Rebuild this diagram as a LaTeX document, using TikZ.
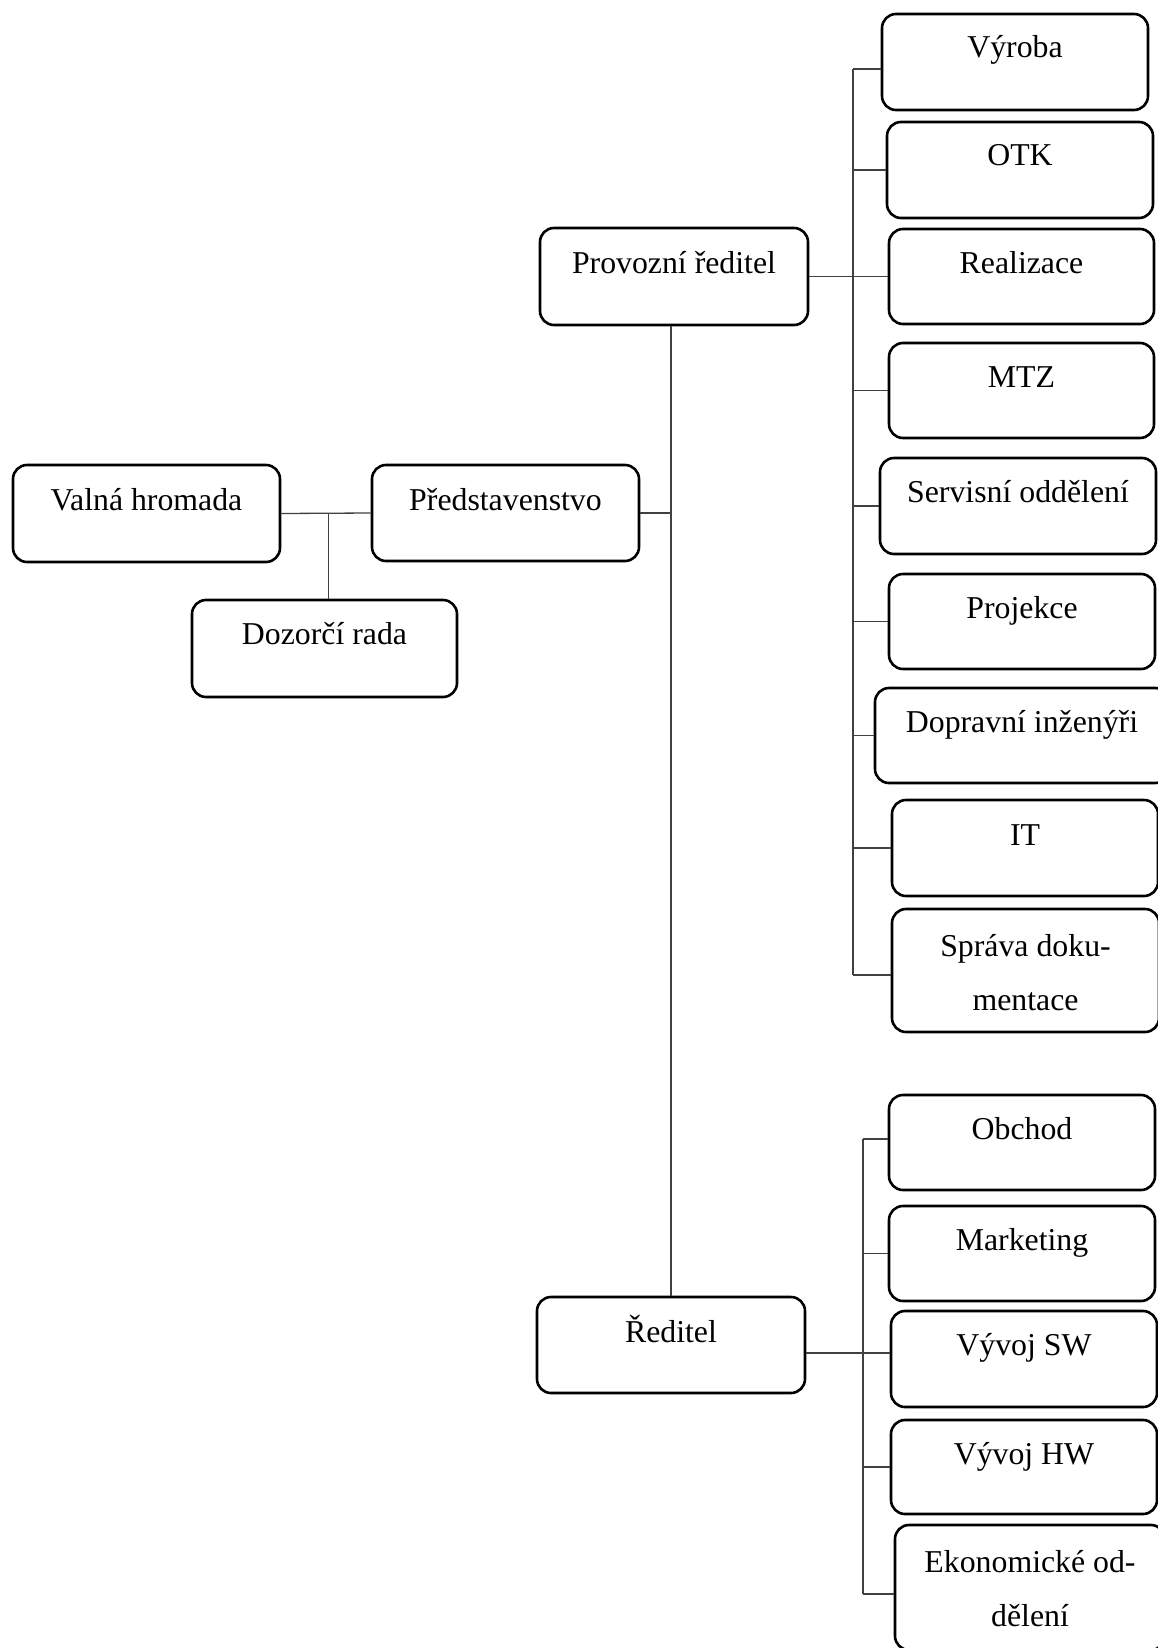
\documentclass[tikz,border=0pt]{standalone}
\usepackage{fontspec}
\setmainfont{Liberation Serif}
\usetikzlibrary{calc}
\tikzset{
  box/.style={draw=black, line width=2.6pt, rounded corners=14pt, inner sep=0pt, align=center, font=\fontsize{31.8}{54}\selectfont},
  conn/.style={draw=black!75, line width=1.3pt}
}
\newcommand\bx[7]{%
  \node[box, minimum width={(#4-#2)*1pt}, minimum height={(#5-#3)*1pt},
        text height={#6*1pt}, text depth={(#5-#3-#6)*1pt}]
        (#1) at ({(#2+#4)/2},{(#3+#5)/2}) {#7};}
\newcommand\twol[2]{\vtop{\halign{\hfil##\hfil\cr #1\cr #2\cr}}}
\begin{document}
\begin{tikzpicture}[x=1pt,y=-1pt]
\useasboundingbox (0,0) rectangle (1157,1648);
\bx{vh}{13}{465}{280}{562}{45}{Valná hromada}
\bx{dz}{192}{600}{457}{697}{44}{Dozorčí rada}
\bx{pr}{372}{465}{639}{561}{45}{Představenstvo}
\bx{prov}{540}{228}{808}{325}{45}{Provozní ředitel}
\bx{red}{537}{1297}{805}{1393}{45}{Ředitel}
\bx{vyr}{882}{14}{1148}{110}{44}{Výroba}
\bx{otk}{887}{122}{1153}{218}{44}{OTK}
\bx{real}{889}{229}{1154}{324}{44}{Realizace}
\bx{mtz}{889}{343}{1154}{438}{44}{MTZ}
\bx{serv}{880}{458}{1156}{554}{44}{Servisní oddělení}
\bx{proj}{889}{574}{1155}{669}{44}{Projekce}
\bx{dop}{875}{688}{1169}{783}{44}{Dopravní inženýři}
\bx{it}{892}{800}{1158}{896}{45}{IT}
\bx{spr}{892}{909}{1159}{1032}{47}{\twol{Správa doku-}{mentace}}
\bx{obch}{889}{1095}{1155}{1190}{44}{Obchod}
\bx{mkt}{889}{1206}{1155}{1301}{44}{Marketing}
\bx{sw}{891}{1311}{1157}{1407}{44}{Vývoj SW}
\bx{hw}{891}{1420}{1157}{1514}{44}{Vývoj HW}
\bx{eko}{895}{1525}{1165}{1650}{47}{\twol{Ekonomické od-}{dělení}}
% left group
\coordinate (j) at ($(vh.east)!0.53!(pr.west)$);
\draw[conn] (vh.east) -- (pr.west);
\draw[conn] (j) -- (j |- dz.north);
% main spine
\draw[conn] (pr.east) -- (pr.east -| red.north);
\draw[conn] (prov.south -| red.north) -- (red.north);
% upper right column
\coordinate (ut) at (853,69);
\coordinate (ub) at (853,975);
\draw[conn] (ut) -- (ub);
\draw[conn] (prov.east) -- (prov.east -| real.west);
\draw[conn] (ut) -- (ut -| vyr.west);
\foreach \b in {otk,mtz,serv,proj,dop,it}{\draw[conn] (ut |- \b.west) -- (\b.west);}
\draw[conn] (ub) -- (ub -| spr.west);
% lower right column
\coordinate (lt) at (863,1139);
\coordinate (lb) at (863,1594);
\draw[conn] (lt) -- (lb);
\coordinate (re) at ($(red.east)+(0,8)$);
\draw[conn] (re) -- (re -| sw.west);
\draw[conn] (lt) -- (lt -| obch.west);
\foreach \b in {mkt,hw}{\draw[conn] (lt |- \b.west) -- (\b.west);}
\draw[conn] (lb) -- (lb -| eko.west);
\end{tikzpicture}
\end{document}
